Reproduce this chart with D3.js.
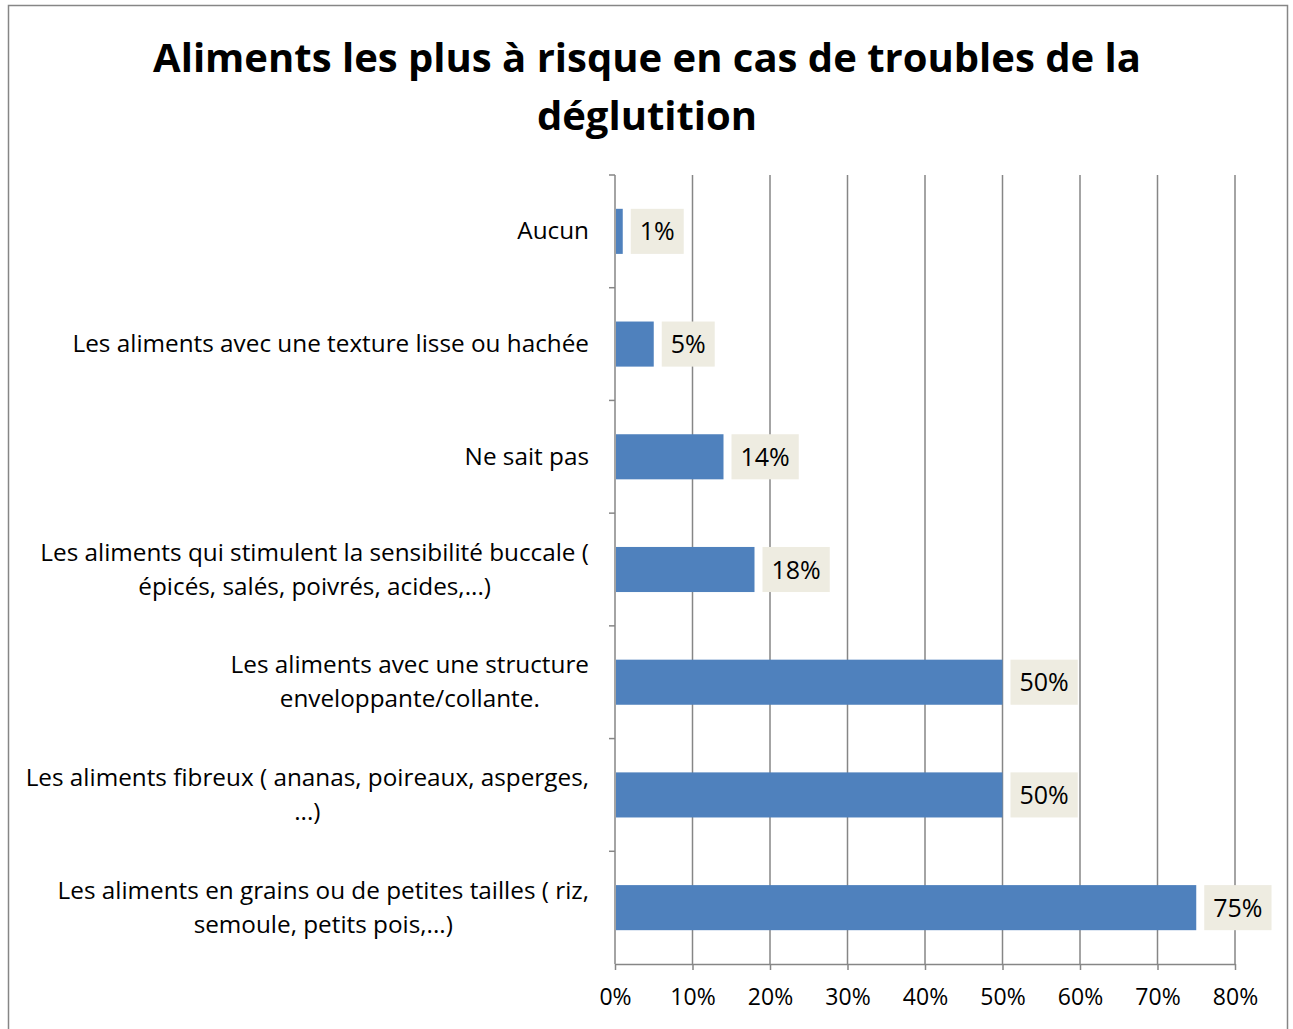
<!DOCTYPE html>
<html>
<head>
<meta charset="utf-8">
<script src="https://cdn.jsdelivr.net/npm/d3@7"></script>
<style>
  body { margin: 0; background: #fff; }
  text { font-family: "Open Sans", "Noto Sans", sans-serif; fill: #000; }
</style>
</head>
<body>
<script>
// Chart data
var categories = [
  "Aucun",
  "Les aliments avec une texture lisse ou hachée",
  "Ne sait pas",
  "Les aliments qui stimulent la sensibilité buccale ( épicés, salés, poivrés, acides,...)",
  "Les aliments avec une structure enveloppante/collante.",
  "Les aliments fibreux ( ananas, poireaux, asperges, ...)",
  "Les aliments en grains ou de petites tailles ( riz, semoule, petits pois,...)"
];
var values = [0.01, 0.05, 0.14, 0.18, 0.50, 0.50, 0.75];
var labels = ["1%", "5%", "14%", "18%", "50%", "50%", "75%"];
var xTicks = [0, 0.1, 0.2, 0.3, 0.4, 0.5, 0.6, 0.7, 0.8];
var titleLines = ["Aliments les plus à risque en cas de troubles de la", "déglutition"];

var width = 1293, height = 1029;
var plot = { left: 615, right: 1235, top: 175, bottom: 964 };

var svg = d3.select("body").append("svg")
  .attr("width", width)
  .attr("height", height);

// chart frame
svg.append("rect")
  .attr("x", 8.5).attr("y", 5.5)
  .attr("width", 1279).attr("height", 1040)
  .attr("fill", "none")
  .attr("stroke", "#868686")
  .attr("stroke-width", 1.5);

// title
svg.append("text")
  .attr("text-anchor", "middle")
  .attr("font-size", 40)
  .attr("font-weight", "bold")
  .selectAll("tspan")
  .data(titleLines).enter()
  .append("tspan")
    .attr("x", 647)
    .attr("y", function(d, i) { return 72 + i * 58; })
    .text(function(d) { return d; });

var x = d3.scaleLinear().domain([0, 0.8]).range([plot.left, plot.right]);
var y = d3.scaleBand().domain(categories).range([plot.top, plot.bottom]).paddingInner(0.6).paddingOuter(0.3);

// vertical gridlines
svg.append("g")
  .selectAll("line")
  .data(xTicks.slice(1)).enter()
  .append("line")
    .attr("x1", function(d) { return x(d); })
    .attr("x2", function(d) { return x(d); })
    .attr("y1", plot.top)
    .attr("y2", plot.bottom)
    .attr("stroke", "#868686")
    .attr("stroke-width", 1.5);

// x axis
var xAxis = svg.append("g")
  .attr("transform", "translate(0," + plot.bottom + ")")
  .call(d3.axisBottom(x).tickValues(xTicks).tickFormat(d3.format(".0%")).tickSize(6).tickPadding(19).tickSizeOuter(0));
xAxis.select(".domain").attr("stroke", "#868686").attr("stroke-width", 1.5);
xAxis.selectAll(".tick line").attr("stroke", "#868686").attr("stroke-width", 1.5);
xAxis.selectAll(".tick text").attr("font-size", 23).attr("font-family", "Open Sans");

// y axis: ticks between categories
var bandStep = (plot.bottom - plot.top) / categories.length;
svg.append("line")
  .attr("x1", plot.left).attr("x2", plot.left)
  .attr("y1", plot.top).attr("y2", plot.bottom)
  .attr("stroke", "#868686").attr("stroke-width", 1.5);
svg.append("g")
  .selectAll("line")
  .data(d3.range(categories.length)).enter()
  .append("line")
    .attr("x1", plot.left - 6).attr("x2", plot.left)
    .attr("y1", function(i) { return plot.top + i * bandStep; })
    .attr("y2", function(i) { return plot.top + i * bandStep; })
    .attr("stroke", "#868686").attr("stroke-width", 1.5);

// bars
svg.append("g")
  .selectAll("rect")
  .data(values).enter()
  .append("rect")
    .attr("x", x(0) + 1)
    .attr("y", function(d, i) { return y(categories[i]); })
    .attr("width", function(d) { return x(d) - x(0) - 1; })
    .attr("height", y.bandwidth())
    .attr("fill", "#4F81BD");

// data labels with beige box
var lab = svg.append("g").selectAll("g")
  .data(values).enter()
  .append("g");
lab.append("rect")
  .attr("fill", "#EEECE1");
lab.append("text")
  .attr("font-size", 25)
  .attr("x", function(d) { return x(d) + 17; })
  .attr("y", function(d, i) { return y(categories[i]) + y.bandwidth() / 2 + 9; })
  .text(function(d, i) { return labels[i]; });
lab.each(function(d, i) {
  var g = d3.select(this);
  var w = g.select("text").node().getComputedTextLength();
  g.select("rect")
    .attr("x", x(d) + 8)
    .attr("y", y(categories[i]))
    .attr("width", w + 18)
    .attr("height", y.bandwidth());
});

// category labels, wrapped, lines centered within right-aligned block
var maxW = 568, lineH = 34, labelRight = 589;
var catG = svg.append("g").attr("font-size", 24.3);
categories.forEach(function(c, i) {
  var words = c.split(" ");
  var lines = [], cur = "";
  var probe = catG.append("text");
  words.forEach(function(w) {
    var test = cur ? cur + " " + w : w;
    probe.text(test);
    if (probe.node().getComputedTextLength() > maxW && cur) {
      lines.push(cur);
      cur = w;
    } else {
      cur = test;
    }
  });
  lines.push(cur);
  var widths = lines.map(function(l) { probe.text(l); return probe.node().getComputedTextLength(); });
  probe.remove();
  var blockW = d3.max(widths);
  var cx = labelRight - blockW / 2;
  var cy = plot.top + (i + 0.5) * bandStep;
  var t = catG.append("text").attr("text-anchor", "middle");
  lines.forEach(function(l, k) {
    t.append("tspan")
      .attr("x", cx)
      .attr("y", cy + 8 + (k - (lines.length - 1) / 2) * lineH)
      .text(l);
  });
});
</script>
</body>
</html>
